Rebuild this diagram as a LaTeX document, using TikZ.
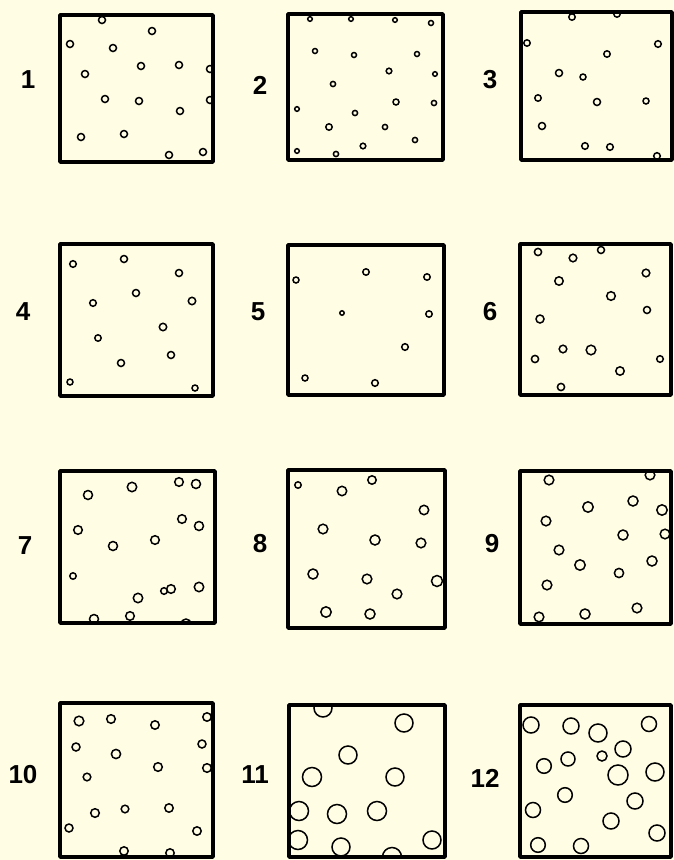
\documentclass[tikz,border=0pt]{standalone}
\usepackage{fontspec}
\setsansfont{Liberation Sans}
\begin{document}
\begin{tikzpicture}[x=1pt,y=-1pt,
  box/.style={line width=3.6pt,line join=round},
  dot/.style={line width=1.5pt},
  lab/.style={font=\sffamily\bfseries\fontsize{26}{26}\selectfont,inner sep=0pt}]
\definecolor{paper}{RGB}{255,253,228}
\fill[paper] (0,0) rectangle (673,860);
\useasboundingbox (0,0) rectangle (673,860);
% helper
\newcommand{\mysq}[6]{%
  \begin{scope}
  \clip (#1,#2) rectangle (#3,#4);
  \foreach \x/\y/\r in {#6} \draw[dot] (\x,\y) circle[radius=\r];
  \end{scope}
  \draw[box] (#1,#2) rectangle (#3,#4);}
% 1
\mysq{60}{15}{213}{162}{1}{102/20/3.5,152/31/3.5,70/44/3.5,113/48/3.5,141/66/3.5,179/65/3.5,210/69/3.5,85/74/3.5,105/99/3.5,139/101/3.5,210/100/3.5,180/111/3.5,81/137/3.5,124/134/3.5,169/155/3.5,203/152/3.5}
\node[lab] (l1) at (28,80) {1};
% 2
\mysq{288}{14}{443}{160}{2}{310/19/2.3,351/19/2.3,395/20/2.3,431/23/2.5,315/51/2.5,354/55/2.5,417/54/2.5,389/71/2.8,435/74/2.3,333/84/2.6,396/102/3,434/103/2.6,297/109/2.3,355/113/2.6,329/127/3.2,385/127/2.6,415/140/2.6,363/146/2.8,297/151/2.3,336/154/2.6}
\node[lab] (l2) at (260,85) {2};
% 3
\mysq{521}{12}{672}{160}{3}{572/17/3.2,617/14/3.2,527/43/3.2,658/44/3.3,607/54/3.2,559/73/3.5,583/77/3,538/98/3.2,597/102/3.5,646/101/3,542/126/3.5,585/146/3.3,610/147/3.3,657/156/3.3}
\node[lab] (l3) at (490,80) {3};
% 4
\mysq{60}{244}{213}{396}{4}{73/264/3.3,124/259/3.5,179/273/3.5,136/293/3.5,93/303/3.3,192/301/3.7,163/327/3.7,98/338/3.2,171/355/3.5,121/363/3.5,70/382/3,195/388/3}
\node[lab] (l4) at (23,312) {4};
% 5
\mysq{288}{245}{444}{395}{5}{296/280/3,366/272/3.2,427/277/3.2,342/313/2.2,429/314/3.2,405/347/3.3,305/378/3,375/383/3.3}
\node[lab] (l5) at (258,312) {5};
% 6
\mysq{520}{244}{671}{395}{6}{538/252/3.6,573/258/3.8,601/250/3.5,646/273/3.8,559/281/4.2,611/296/4.3,647/310/3.5,540/319/4,563/349/3.8,591/350/4.8,535/359/3.6,660/359/3.3,620/371/4.2,561/387/3.6}
\node[lab] (l6) at (490,312) {6};
% 7
\mysq{60}{471}{215}{623}{7}{88/495/4.5,132/487/4.7,179/482/4.3,196/484/4.5,182/519/4.3,199/526/4.5,78/530/4.3,155/540/4.3,113/546/4.5,73/576/3.2,171/589/4.3,164/591/3.3,199/587/4.7,138/598/4.7,94/619/4.5,130/616/4.3,186/624/5}
\node[lab] (l7) at (25,546) {7};
% 8
\mysq{288}{470}{445}{628}{8}{298/485/3.2,342/491/4.7,372/480/4.2,424/510/4.7,323/529/4.8,375/540/5,421/543/4.8,313/574/5,367/579/4.8,437/581/5.5,397/594/4.8,326/612/5.2,370/614/5}
\node[lab] (l8) at (260,544) {8};
% 9
\mysq{520}{471}{671}{624}{9}{549/480/4.8,650/475/4.8,588/507/5.2,633/501/5,662/510/5.2,546/521/4.8,623/535/5,665/534/4.8,559/550/4.8,580/565/5.2,652/561/5,619/573/4.6,547/585/4.8,637/608/4.8,539/617/4.8,585/614/5}
\node[lab] (l9) at (492,544) {9};
% 10
\mysq{60}{703}{213}{857}{10}{79/721/4.8,111/719/4.3,155/725/4.2,207/717/4.2,76/747/4,116/754/4.6,202/744/4,158/767/4.3,207/768/4.3,87/777/3.8,95/813/4.3,125/809/3.8,169/808/4.2,69/828/4,197/831/4.2,124/851/4.2,170/853/4.2}
\node[lab] (l10) at (23,775) {10};
% 11
\mysq{289}{705}{445}{857}{11}{323/708/9,404/723/9,348/755/9,312/777/9.5,395/777/9,299/811/9.5,337/814/9.5,377/811/9.5,298/840/9.5,341/847/9,392/857/9.5,432/840/9}
\node[lab] (l11) at (255,775) {11};
% 12
\mysq{520}{705}{671}{857}{12}{531/725/8,571/726/8,598/733/9,649/724/7.5,623/749/8,602/756/5,568/759/7,544/766/7.3,618/775/10,655/772/9,565/795/7.3,635/801/8,533/810/7.5,611/821/8,657/833/8,538/845/7.3,581/846/7.5}
\node[lab] (l12) at (485,778) {12};
\end{tikzpicture}
\end{document}
